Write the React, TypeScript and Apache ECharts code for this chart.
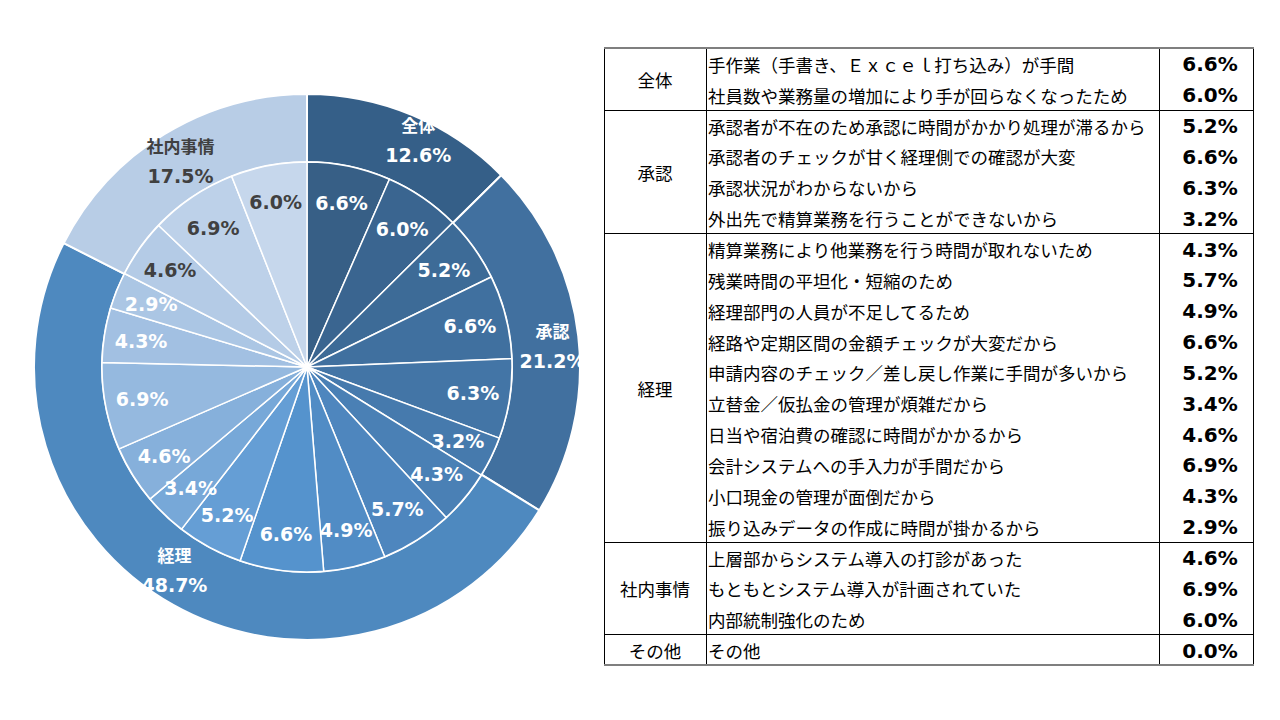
import React, { useEffect, useRef } from "react";
import * as echarts from "echarts";

// ---- data ----
const groupNames = ["全体", "承認", "経理", "社内事情", "その他"];
const groupShares = [12.6, 21.2, 48.7, 17.5];

const itemLabels = [
  "手作業（手書き、Ｅｘｃｅｌ打ち込み）が手間",
  "社員数や業務量の増加により手が回らなくなったため",
  "承認者が不在のため承認に時間がかかり処理が滞るから",
  "承認者のチェックが甘く経理側での確認が大変",
  "承認状況がわからないから",
  "外出先で精算業務を行うことができないから",
  "精算業務により他業務を行う時間が取れないため",
  "残業時間の平坦化・短縮のため",
  "経理部門の人員が不足してるため",
  "経路や定期区間の金額チェックが大変だから",
  "申請内容のチェック／差し戻し作業に手間が多いから",
  "立替金／仮払金の管理が煩雑だから",
  "日当や宿泊費の確認に時間がかかるから",
  "会計システムへの手入力が手間だから",
  "小口現金の管理が面倒だから",
  "振り込みデータの作成に時間が掛かるから",
  "上層部からシステム導入の打診があった",
  "もともとシステム導入が計画されていた",
  "内部統制強化のため",
  "その他",
];
const itemValues = [6.6, 6.0, 5.2, 6.6, 6.3, 3.2, 4.3, 5.7, 4.9, 6.6, 5.2, 3.4, 4.6, 6.9, 4.3, 2.9, 4.6, 6.9, 6.0, 0.0];
const itemGroups = [0, 0, 1, 1, 1, 1, 2, 2, 2, 2, 2, 2, 2, 2, 2, 2, 3, 3, 3, 4];

// ---- styles ----
const groupColors = ["#355F88", "#41709F", "#4E89BF", "#B8CDE6"];
const groupLabelColors = ["#FFFFFF", "#FFFFFF", "#FFFFFF", "#404040"];
const groupLabelShift = [[18, -4], [5, 6], [-14, -8], [0, 0]];
const itemColors = [
  "#375F86", "#3A6590", "#3D6B97", "#40709F", "#4375A6", "#467AAD",
  "#4A80B5", "#4E86BE", "#518CC5", "#5593CD", "#659ED5", "#77A8D8",
  "#86B0DB", "#95B9DF", "#A2C0E2", "#ABC6E4", "#B4CBE6", "#BDD1E9", "#C6D7EC",
];
const darkLabelFrom = 16;

const FONT = "'DejaVu Sans', 'Noto Sans CJK JP', sans-serif";
const CJK = "'Noto Sans CJK JP', sans-serif";

export default function App() {
  const ref = useRef<HTMLDivElement>(null);
  useEffect(() => {
    if (!ref.current) return;
    const chart = echarts.init(ref.current, undefined, { renderer: "svg" });
    const center = [307, 367];

    const pieItems = itemValues
      .map((v, i) => ({ v, i }))
      .filter((d) => d.v > 0);

    const innerData = pieItems.map((d, k) => ({
      name: itemLabels[d.i],
      value: d.v,
      itemStyle: { color: itemColors[k] },
    }));
    const innerLabelData = pieItems.map((d, k) => ({
      name: itemLabels[d.i],
      value: d.v,
      label: { color: k >= darkLabelFrom ? "#404040" : "#FFFFFF" },
    }));
    const outerData = groupShares.map((v, g) => ({
      name: groupNames[g],
      value: v,
      itemStyle: { color: groupColors[g] },
      label: { color: groupLabelColors[g] },
    }));

    // ---- table ----
    const x0 = 604, x1 = 706, x2 = 1159, x3 = 1253, y0 = 48, rowH = 30.85;
    const nRows = itemLabels.length;
    const yEnd = y0 + rowH * nRows;
    const graphics: any[] = [];
    itemLabels.forEach((t, i) => {
      const cy = y0 + rowH * (i + 0.5) + 1;
      graphics.push({
        type: "text", x: x1 + 2, y: cy,
        style: { text: t, font: `17.5px ${CJK}`, fill: "#000", verticalAlign: "middle", align: "left" },
      });
      graphics.push({
        type: "text", x: (x2 + x3) / 2 + 4, y: cy,
        style: { text: itemValues[i].toFixed(1) + "%", font: `bold 20px ${FONT}`, fill: "#000", verticalAlign: "middle", align: "center" },
      });
    });
    const boundaries: number[] = [];
    groupNames.forEach((name, g) => {
      const rows = itemGroups.map((gg, i) => (gg === g ? i : -1)).filter((i) => i >= 0);
      const s = rows[0], e = rows[rows.length - 1] + 1;
      const cy = y0 + rowH * (s + e) / 2 + 1;
      graphics.push({
        type: "text", x: (x0 + x1) / 2, y: cy,
        style: { text: name, font: `17.5px ${CJK}`, fill: "#000", verticalAlign: "middle", align: "center" },
      });
      if (g > 0) boundaries.push(y0 + rowH * s);
    });
    boundaries.forEach((y) => {
      const yy = Math.round(y) + 0.5;
      graphics.push({ type: "line", shape: { x1: x0, y1: yy, x2: x3, y2: yy }, style: { stroke: "#000", lineWidth: 1 } });
    });
    [x0, x1, x2, x3].forEach((x) => {
      graphics.push({ type: "line", shape: { x1: x + 0.5, y1: y0, x2: x + 0.5, y2: yEnd }, style: { stroke: "#000", lineWidth: 1 } });
    });
    [y0, yEnd].forEach((y) => {
      graphics.push({ type: "line", shape: { x1: x0, y1: Math.round(y), x2: x3 + 1, y2: Math.round(y) }, style: { stroke: "#7F7F7F", lineWidth: 2 } });
    });

    chart.setOption({
      animation: false,
      backgroundColor: "#FFFFFF",
      graphic: graphics,
      series: [
        {
          type: "pie",
          center,
          radius: [205, 273],
          startAngle: 90,
          clockwise: true,
          silent: true,
          avoidLabelOverlap: false,
          itemStyle: { borderColor: "#FFFFFF", borderWidth: 2 },
          label: {
            show: true,
            position: "inside",
            formatter: (p: any) => `{n|${p.name}}\n{v|${p.value.toFixed(1)}%}`,
            rich: {
              n: { fontFamily: CJK, fontWeight: "bold", fontSize: 17, lineHeight: 30 },
              v: { fontFamily: FONT, fontWeight: "bold", fontSize: 19, lineHeight: 30 },
            },
          },
          labelLayout: (p: any) => ({ dx: groupLabelShift[p.dataIndex][0], dy: groupLabelShift[p.dataIndex][1] }),
          labelLine: { show: false },
          emphasis: { disabled: true },
          data: outerData,
        },
        {
          type: "pie",
          center,
          radius: [0, 205],
          startAngle: 90,
          clockwise: true,
          silent: true,
          itemStyle: { borderColor: "#FFFFFF", borderWidth: 1.5 },
          label: { show: false },
          labelLine: { show: false },
          emphasis: { disabled: true },
          data: innerData,
        },
        {
          type: "pie",
          center,
          radius: [125, 205],
          startAngle: 90,
          clockwise: true,
          silent: true,
          avoidLabelOverlap: false,
          itemStyle: { color: "rgba(0,0,0,0)", borderWidth: 0 },
          label: {
            show: true,
            position: "inside",
            fontFamily: FONT,
            fontWeight: "bold",
            fontSize: 19,
            formatter: (p: any) => `${p.value.toFixed(1)}%`,
          },
          labelLine: { show: false },
          emphasis: { disabled: true },
          data: innerLabelData,
        },
      ],
    });
    return () => chart.dispose();
  }, []);
  return <div ref={ref} style={{ position: "fixed", left: 0, top: 0, width: 1280, height: 720 }} />;
}
